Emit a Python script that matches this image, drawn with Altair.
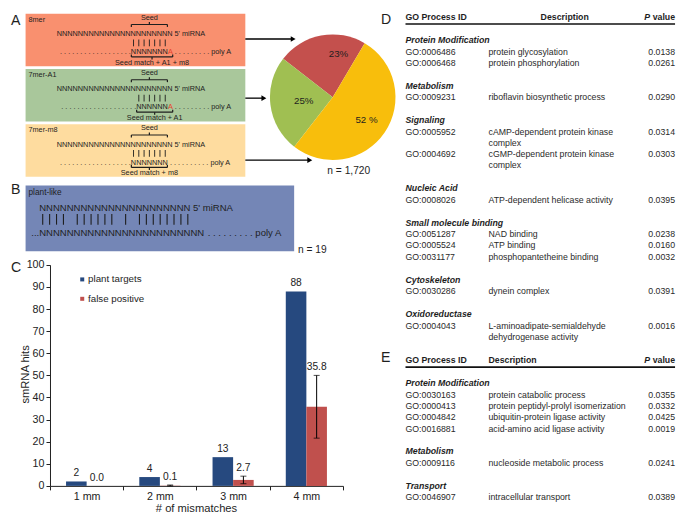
import altair as alt
import pandas as pd

FONT = "Liberation Sans"
REF_W, REF_H = 685, 522
W, H = 669, 506
SX, SY = W / REF_W, H / REF_H
F = (SX + SY) / 2

# ---------------- data ----------------
site_types = ["8mer", "7mer-A1", "7mer-m8"]
site_match_text = ["Seed match + A1 + m8", "Seed match + A1", "Seed match + m8"]
site_share = [23, 25, 52]
site_share_labels = ["23%", "25%", "52 %"]
site_total_label = "n = 1,720"
plant_like_label = "plant-like"
plant_like_total_label = "n = 19"

mismatch_cats = ["1 mm", "2 mm", "3 mm", "4 mm"]
series_names = ["plant targets", "false positive"]
plant_targets = [2, 4, 13, 88]
false_positive = [0.0, 0.1, 2.7, 35.8]
false_positive_err = [0.0, 0.3, 1.7, 14.2]
y_title = "smRNA hits"
x_title = "# of mismatches"

table_header = ["GO Process ID", "Description", "P", "value"]

d_group = ["Protein Modification", "Protein Modification", "Metabolism", "Signaling", "Signaling",
           "Nucleic Acid", "Small molecule binding", "Small molecule binding", "Small molecule binding",
           "Cytoskeleton", "Oxidoreductase"]
d_id = ["GO:0006486", "GO:0006468", "GO:0009231", "GO:0005952", "GO:0004692", "GO:0008026",
        "GO:0051287", "GO:0005524", "GO:0031177", "GO:0030286", "GO:0004043"]
d_desc = ["protein glycosylation", "protein phosphorylation", "riboflavin biosynthetic process",
          "cAMP-dependent protein kinase|complex", "cGMP-dependent protein kinase|complex",
          "ATP-dependent helicase activity", "NAD binding", "ATP binding", "phosphopantetheine binding",
          "dynein complex", "L-aminoadipate-semialdehyde|dehydrogenase activity"]
d_p = [0.0138, 0.0261, 0.0290, 0.0314, 0.0303, 0.0395, 0.0238, 0.0160, 0.0032, 0.0391, 0.0016]

e_group = ["Protein Modification", "Protein Modification", "Protein Modification", "Protein Modification",
           "Metabolism", "Transport"]
e_id = ["GO:0030163", "GO:0000413", "GO:0004842", "GO:0016881", "GO:0009116", "GO:0046907"]
e_desc = ["protein catabolic process", "protein peptidyl-prolyl isomerization",
          "ubiquitin-protein ligase activity", "acid-amino acid ligase activity",
          "nucleoside metabolic process", "intracellular transport"]
e_p = [0.0355, 0.0332, 0.0425, 0.0019, 0.0241, 0.0389]

# ---------------- styles ----------------
BOX_COLORS = ["#F9906F", "#A9C79B", "#FEDC9F"]
PLANT_BOX = "#7486B6"
PIE_COLORS = ["#C4504D", "#A0BF52", "#F8BE0C"]
BLUE = "#26497F"
RED = "#C0504D"
INK = "#1e1e1e"


def PX(x):
    return x * SX


def PY(y):
    return y * SY


XS = alt.Scale(domain=[0, REF_W], range=[0, W], nice=False, zero=False)
YS = alt.Scale(domain=[0, REF_H], range=[0, H], nice=False, zero=False)


def CX(f="x"):
    return alt.X(f"{f}:Q", scale=XS, axis=None)


def CY(f="y"):
    return alt.Y(f"{f}:Q", scale=YS, axis=None)


layers = []


def add_rect(x0, y0, x1, y1, color):
    df = pd.DataFrame({"x": [x0], "x2": [x1], "y": [y0], "y2": [y1]})
    layers.append(alt.Chart(df).mark_rect(color=color).encode(
        x=CX(), x2="x2:Q", y=CY(), y2="y2:Q"))


def add_text(items, size, weight="normal", style="normal", color=INK, align="left",
             baseline="middle", angle=0):
    if not items:
        return
    df = pd.DataFrame(items, columns=["x", "y", "t"])
    kw = dict(font=FONT, fontSize=size * F, fontWeight=weight, fontStyle=style,
              color=color, align=align, baseline=baseline)
    if angle:
        kw["angle"] = angle
    layers.append(alt.Chart(df).mark_text(**kw).encode(x=CX(), y=CY(), text="t:N"))


def add_rules(segs, color=INK, width=1.0):
    df = pd.DataFrame(segs, columns=["x", "y", "x2", "y2"])
    layers.append(alt.Chart(df).mark_rule(color=color, strokeWidth=width).encode(
        x=CX(), y=CY(), x2="x2:Q", y2="y2:Q"))


# ---------------- panel A : site diagrams ----------------
A_X0, A_X1, A_TOPS, A_H = 18, 243, [6, 63, 120], 54
A_FS = 7.5
NW = 0.722 * A_FS
DW = 0.278 * A_FS
AW = 0.667 * A_FS
N0 = 50


def nx(i):
    return N0 + i * NW


PAIRS = [range(14, 21), range(15, 21), range(14, 21)]
TARGET_N = [(14, 7), (15, 6), (14, 7)]
HAS_A = [True, True, False]
MATCH = [(14, 22), (15, 22), (14, 21)]
RIGHT_DOTS = [9, 9, 10]

for k in range(3):
    add_rect(A_X0, A_TOPS[k], A_X1, A_TOPS[k] + A_H, BOX_COLORS[k])

a_txt, a_txt_c, a_txt_r, a_red, a_rules, a_bars = [], [], [], [], [], []
for k in range(3):
    t = A_TOPS[k]
    a_txt.append((21, t + 6, site_types[k]))
    sx0, sx1 = nx(14) + 0.5, nx(21) - 0.5
    sc = (sx0 + sx1) / 2
    a_txt_c.append((sc, t + 4, "Seed"))
    yb = t + 11
    a_rules += [(sx0, yb, sx1, yb), (sx0, yb, sx0, yb + 2.5), (sx1, yb, sx1, yb + 2.5),
                (sc, yb, sc, yb - 2.5)]
    a_txt.append((N0, t + 21, "N" * 22 + " 5' miRNA"))
    for i in PAIRS[k]:
        xb = nx(i) + NW / 2
        a_bars.append((xb, t + 26.5, xb, t + 33.5))
    yl = t + 39.5
    s, c = TARGET_N[k]
    n_left = int((nx(s) - N0) / (2 * DW))
    a_txt_r.append((nx(s), yl, " ".join(["."] * n_left)))
    a_txt.append((nx(s), yl, "N" * c))
    end_x = nx(s + c)
    if HAS_A[k]:
        a_red.append((end_x, yl, "A"))
        end_x += AW
    a_txt.append((end_x + DW, yl, " ".join(["."] * RIGHT_DOTS[k]) + " poly A"))
    m0, m1 = MATCH[k]
    bx0, bx1 = nx(m0) + 0.5, nx(m1) - 0.5
    bc = (bx0 + bx1) / 2
    yb3 = t + 44.5
    a_rules += [(bx0, yb3, bx1, yb3), (bx0, yb3, bx0, yb3 - 2.5), (bx1, yb3, bx1, yb3 - 2.5),
                (bc, yb3, bc, yb3 + 2.5)]
    a_txt_c.append((bc, t + 50.5, site_match_text[k]))

add_rules(a_rules, width=1.2)
add_rules(a_bars, width=0.9)
add_text(a_txt, A_FS)
add_text(a_txt_c, A_FS, align="center")
add_text(a_txt_r, A_FS, align="right")
add_text(a_red, A_FS, color="#E8412C")

# arrows
ARROWS = [(32, 295), (93, 265), (157, 312)]
add_rules([(A_X1, y, xe - 3, y) for y, xe in ARROWS], color="black", width=1.3)
layers.append(alt.Chart(pd.DataFrame({"x": [xe - 3 for _, xe in ARROWS], "y": [y for y, _ in ARROWS]}))
              .mark_point(shape="triangle-right", filled=True, size=32, color="black", opacity=1)
              .encode(x=CX(), y=CY()))

# pie
PIE_CX, PIE_CY, PIE_R = 332.5, 92, 64.5
pie_order = [2, 1, 0]  # clockwise from the top-right: 7mer-m8, 7mer-A1, 8mer
pie_df = pd.DataFrame({
    "site": site_types,
    "pct": site_share,
    "lbl": site_share_labels,
    "ord": [pie_order.index(i) for i in range(3)],
})
START = 0.534
theta_scale = alt.Scale(domain=[0, 100], range=[START, START + 6.283185307])
color_scale = alt.Scale(domain=site_types, range=PIE_COLORS)
layers.append(alt.Chart(pie_df).mark_arc(outerRadius=PIE_R * F).encode(
    theta=alt.Theta("pct:Q", stack=True, scale=theta_scale),
    color=alt.Color("site:N", scale=color_scale, legend=None),
    order=alt.Order("ord:Q"),
    x=alt.value(PX(PIE_CX)), y=alt.value(PY(PIE_CY))))
LABEL_R = [45, 30, 42]
LABEL_DX = [14, 0, 0]
for i in range(3):
    layers.append(
        alt.Chart(pie_df)
        .transform_window(cum="sum(pct)", sort=[alt.SortField("ord")], frame=[None, 0])
        .transform_calculate(mid="datum.cum - datum.pct / 2")
        .transform_filter(alt.datum.site == site_types[i])
        .mark_text(radius=LABEL_R[i] * F, dx=LABEL_DX[i], font=FONT, fontSize=10 * F, color=INK)
        .encode(theta=alt.Theta("mid:Q", stack=None, scale=theta_scale), text="lbl:N",
                x=alt.value(PX(PIE_CX)), y=alt.value(PY(PIE_CY))))

add_text([(327, 168, site_total_label)], 10.5)

# ---------------- panel B ----------------
add_rect(18, 183, 293, 251, PLANT_BOX)
B_FS = 9.8
NBW = 0.722 * B_FS
NB0 = 32
B_PAIRS = [0, 1, 2, 3, 5, 6, 7, 8, 9, 10, 12, 14, 15, 16, 17, 18, 19, 20, 21]
add_text([(21, 191, plant_like_label)], 8.5)
add_rules([(NB0 + (i + 0.5) * NBW, 212.5, NB0 + (i + 0.5) * NBW, 223.5) for i in B_PAIRS], width=1.1)
add_text([(NB0, 206, "N" * 22 + " 5' miRNA"),
          (NB0, 232, "N" * 24),
          (NB0 + 24 * NBW + 0.278 * B_FS, 232, " ".join(["."] * 9) + " poly A")], B_FS)
add_text([(NB0, 232, "...")], B_FS, align="right")
add_text([(297, 250, plant_like_total_label)], 10.5)

# ---------------- panel C : legend + titles ----------------
for i, col in enumerate([BLUE, RED]):
    layers.append(alt.Chart(pd.DataFrame({"x": [76], "y": [280 + 20 * i]}))
                  .mark_square(size=16, color=col, opacity=1).encode(x=CX(), y=CY()))
add_text([(82, 280, series_names[0]), (82, 300, series_names[1])], 10)
add_text([(18, 378, y_title)], 11.5, align="center", angle=270)
add_text([(193, 517, x_title)], 11.5, align="center")

# ---------------- panels D / E : tables ----------------
X_ID, X_DESC, X_P = 407, 492, 683
tab_bold, tab_bold_c, tab_bi, tab_bi_r, tab_bold_r, tab_norm, tab_norm_r, tab_rules = ([] for _ in range(8))


def build_table(groups, ids, descs, ps, y_head, center_desc):
    tab_bold.append((X_ID, y_head, table_header[0]))
    if center_desc:
        tab_bold_c.append((570, y_head, table_header[1]))
    else:
        tab_bold.append((X_DESC, y_head, table_header[1]))
    vw = 2.557 * 9
    tab_bold_r.append((X_P, y_head, table_header[3]))
    tab_bi_r.append((X_P - vw - 2.5, y_head, table_header[2]))
    tab_rules.append((X_ID, y_head + 7.5, X_P, y_head + 7.5))
    prev, last = None, None
    for g, gid, desc, p in zip(groups, ids, descs, ps):
        if g != prev:
            gy = y_head + 24 if last is None else last + 23.5
            tab_bi.append((X_ID, gy, g))
            line = gy + 12
        else:
            line = last + 11.6
        tab_norm.append((X_ID, line, gid))
        tab_norm_r.append((X_P, line, f"{p:.4f}"))
        parts = desc.split("|")
        for j, part in enumerate(parts):
            tab_norm.append((X_DESC, line + j * 11.6, part))
        last = line + (len(parts) - 1) * 11.6
        prev = g


build_table(d_group, d_id, d_desc, d_p, 9, True)
build_table(e_group, e_id, e_desc, e_p, 363, False)
add_rules(tab_rules, color="#111", width=1.6)
add_text(tab_bold, 9, weight="bold")
add_text(tab_bold_c, 9, weight="bold", align="center")
add_text(tab_bold_r, 9, weight="bold", align="right")
add_text(tab_bi, 9, weight="bold", style="italic")
add_text(tab_bi_r, 9, weight="bold", style="italic", align="right")
add_text(tab_norm, 9, color="#2a2a2a")
add_text(tab_norm_r, 9, color="#2a2a2a", align="right")

# panel letters
add_text([(3, 13, "A"), (3, 188, "B"), (3, 268, "C"), (382, 12, "D"), (382, 361, "E")], 14.5)

canvas = alt.layer(*layers)

# ---------------- panel C : bar chart ----------------
rows, err_rows = [], []
for i, c in enumerate(mismatch_cats):
    rows.append(dict(mm=c, series=series_names[0], v=plant_targets[i], top=plant_targets[i],
                     label=f"{plant_targets[i]:g}"))
    e = false_positive_err[i]
    hi = false_positive[i] + e
    rows.append(dict(mm=c, series=series_names[1], v=false_positive[i], top=max(false_positive[i], hi),
                     label=f"{false_positive[i]:.1f}"))
    if e > 0:
        err_rows.append(dict(mm=c, series=series_names[1], lo=max(false_positive[i] - e, 0), hi=hi))
bdf = pd.DataFrame(rows)
edf = pd.DataFrame(err_rows)

XAX = alt.Axis(orient="bottom", offset=-(H - PY(493)), title=None, labelAngle=0, labelFont=FONT,
               labelFontSize=11 * F, labelColor="#222", labelPadding=2, tickBand="extent", tickSize=4,
               tickColor="#222", domainColor="#222")
YAX = alt.Axis(orient="left", offset=-PX(43), title=None, values=list(range(0, 101, 10)), grid=False,
               labelFont=FONT, labelFontSize=11 * F, labelColor="#222", labelPadding=2, tickSize=4,
               tickColor="#222", domainColor="#222")
bx = alt.X("mm:N", sort=mismatch_cats,
           scale=alt.Scale(domain=mismatch_cats, range=[PX(43), PX(343)], paddingInner=0, paddingOuter=0),
           axis=XAX)
bxo = alt.XOffset("series:N", sort=series_names,
                  scale=alt.Scale(domain=series_names, paddingInner=0, paddingOuter=0.78))
YB = alt.Scale(domain=[0, 100], range=[PY(493), PY(265)], nice=False)


def byf(f):
    return alt.Y(f"{f}:Q", scale=YB, axis=YAX)


bars = alt.Chart(bdf).mark_bar().encode(
    x=bx, xOffset=bxo, y=byf("v"),
    color=alt.Color("series:N", scale=alt.Scale(domain=series_names, range=[BLUE, RED]), legend=None))
err = alt.Chart(edf).mark_rule(color="black", strokeWidth=1).encode(x=bx, xOffset=bxo, y=byf("lo"), y2="hi:Q")
cap_lo = alt.Chart(edf).mark_tick(color="black", thickness=1, size=6).encode(x=bx, xOffset=bxo, y=byf("lo"))
cap_hi = alt.Chart(edf).mark_tick(color="black", thickness=1, size=6).encode(x=bx, xOffset=bxo, y=byf("hi"))
labels = alt.Chart(bdf).mark_text(baseline="bottom", dy=-3, font=FONT, fontSize=10.5 * F, color="#222").encode(
    x=bx, xOffset=bxo, y=byf("top"), text="label:N")
barchart = alt.layer(bars, err, cap_lo, cap_hi, labels)

chart = (
    alt.layer(canvas, barchart)
    .resolve_scale(x="independent", y="independent", color="independent")
    .properties(width=W, height=H, padding=0, autosize=alt.AutoSizeParams(type="none"), background="white")
    .configure_view(stroke=None)
)

chart.save("out.html", embed_options={"renderer": "svg", "actions": False})
